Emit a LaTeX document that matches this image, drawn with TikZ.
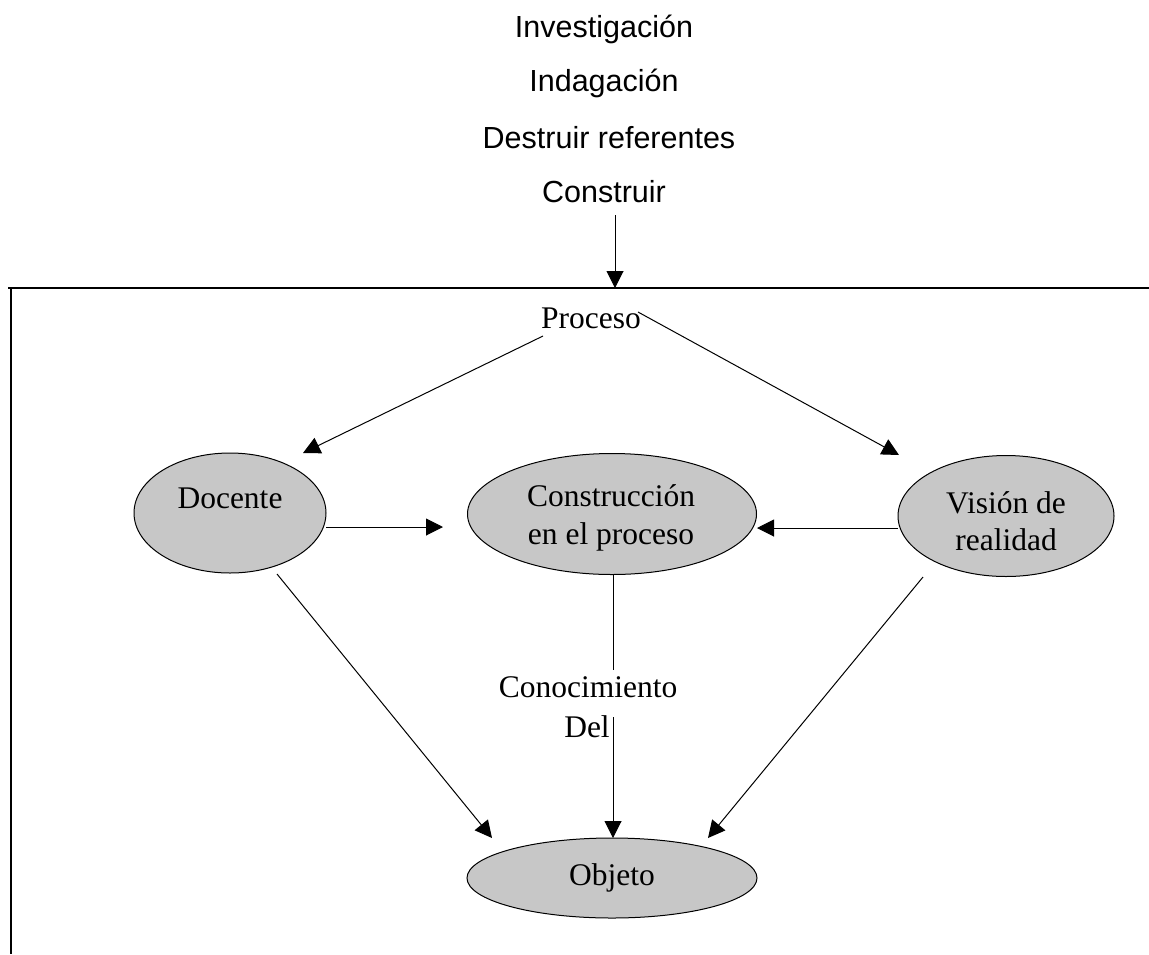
\documentclass[tikz,border=0pt]{standalone}
\usepackage{fontspec}
\setmainfont{Liberation Serif}
\newfontfamily\sansfam{Liberation Sans}
\usetikzlibrary{arrows.meta,shapes.geometric}
\definecolor{ovalgray}{rgb}{0.78,0.78,0.78}
\tikzset{
  oval/.style={ellipse, draw=black, line width=1pt, fill=ovalgray, inner sep=0pt},
  serlbl/.style={font=\fontsize{31.5}{37.5}\selectfont, align=center, inner sep=0pt},
  toplbl/.style={font=\sansfam\fontsize{30.5}{36}\selectfont, inner sep=0pt},
  conn/.style={line width=1pt, -{Triangle[length=17pt,width=17pt]}},
  plain/.style={line width=1pt},
  frame/.style={line width=1.8pt}
}
\begin{document}
\begin{tikzpicture}[x=1pt,y=-1pt]
\useasboundingbox (0,0) rectangle (1149,954);
% top texts
\node[toplbl] (inv) at (604,29) {Investigación};
\node[toplbl] (ind) at (604,83) {Indagación};
\node[toplbl] (des) at (609,138) {Destruir referentes};
\node[toplbl] (con) at (604,192) {Construir};
% frame
\coordinate (fl) at (8,288);
\coordinate (fr) at (1149,288);
\coordinate (fb) at (11,954);
\coordinate (ftl) at (11,288);
\draw[frame] (fl) -- (fr);
\draw[frame] (ftl) -- (fb);
% top arrow
\coordinate (ta) at (615,215);
\coordinate (tb) at (615,288);
\draw[conn] (ta) -- (tb);
% proceso
\node[serlbl] (pro) at (591,318) {Proceso};
% ovals
\node[oval, minimum width=192pt, minimum height=120pt] (doc) at (230,513) {};
\node[serlbl] (doct) at (230,498) {Docente};
\node[oval, minimum width=289pt, minimum height=121pt] (cons) at (612,514) {};
\node[serlbl] (const) at (611,518) {Construcción\\en el proceso};
\node[oval, minimum width=216pt, minimum height=121pt] (vis) at (1006,516) {};
\node[serlbl] (vist) at (1006,521) {Visión de\\realidad};
\node[oval, minimum width=290pt, minimum height=80pt] (obj) at (612,878) {};
\node[serlbl] (objt) at (612,878) {Objeto};
% conocimiento label
\node[serlbl] (cono) at (588,687) {Conocimiento};
\node[serlbl] (del) at (587,727) {Del};
% connector coordinates
\coordinate (p1) at (543,336);
\coordinate (d1) at (303,453);
\coordinate (p2) at (638,312);
\coordinate (v1) at (899,455);
\coordinate (d2) at (326,527);
\coordinate (c1) at (443,527);
\coordinate (v2) at (898,528);
\coordinate (c2) at (757,528);
\coordinate (d3) at (277,574);
\coordinate (o1) at (492,838);
\coordinate (c3) at (613,575);
\coordinate (c4) at (613,670);
\coordinate (c5) at (613,717);
\coordinate (o2) at (613,838);
\coordinate (v3) at (923,577);
\coordinate (o3) at (708,838);
\draw[conn] (p1) -- (d1);
\draw[conn] (p2) -- (v1);
\draw[conn] (d2) -- (c1);
\draw[conn] (v2) -- (c2);
\draw[conn] (d3) -- (o1);
\draw[plain] (c3) -- (c4);
\draw[conn] (c5) -- (o2);
\draw[conn] (v3) -- (o3);
\end{tikzpicture}
\end{document}
